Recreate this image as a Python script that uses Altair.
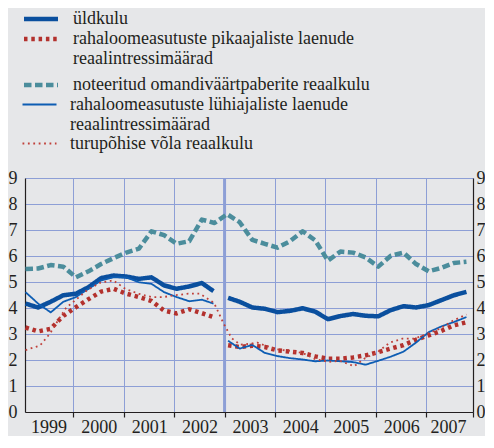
import altair as alt
import pandas as pd

series_names = [
    "üldkulu",
    "rahaloomeasutuste pikaajaliste laenude reaalintressimäärad",
    "noteeritud omandiväärtpaberite reaalkulu",
    "rahaloomeasutuste lühiajaliste laenude reaalintressimäärad",
    "turupõhise võla reaalkulu",
]
series_colors = ["#0a4f9e", "#b3312d", "#4b8d9c", "#0d5db3", "#c0403a"]
series_dash = [[1, 0], [3.5, 3.8], [7.5, 3.5], [1, 0], [1.8, 3.6]]
group_a, group_b, group_c = series_names[:2], series_names[2:3], series_names[3:]

# time positions (decimal years)
t_a = [1999.05, 1999.30, 1999.55, 1999.80, 2000.05, 2000.30, 2000.55, 2000.80,
       2001.05, 2001.30, 2001.55, 2001.80, 2002.05, 2002.30, 2002.55, 2002.78]
t_b = [2003.07, 2003.30, 2003.55, 2003.80, 2004.05, 2004.30, 2004.55, 2004.80,
       2005.05, 2005.30, 2005.55, 2005.80, 2006.05, 2006.30, 2006.55, 2006.80,
       2007.05, 2007.30, 2007.55, 2007.80]
t_all = [1999.05, 1999.30, 1999.55, 1999.80, 2000.05, 2000.30, 2000.55, 2000.80,
         2001.05, 2001.30, 2001.55, 2001.80, 2002.05, 2002.30, 2002.55, 2002.80,
         2003.05, 2003.30, 2003.55, 2003.80, 2004.05, 2004.30, 2004.55, 2004.80,
         2005.05, 2005.30, 2005.55, 2005.80, 2006.05, 2006.30, 2006.55, 2006.80,
         2007.05, 2007.30, 2007.55, 2007.80]
t_turu = [1999.05, 1999.34, 1999.54, 1999.70, 1999.86, 2000.04, 2000.27, 2000.53,
          2000.79, 2001.03, 2001.29, 2001.56, 2001.78, 2002.02, 2002.28, 2002.51,
          2002.79, 2002.98, 2003.14, 2003.31, 2003.50, 2003.65, 2003.80, 2004.04,
          2004.30, 2004.55, 2004.80, 2005.07, 2005.29, 2005.57, 2005.78, 2006.04,
          2006.28, 2006.53, 2006.77, 2007.00, 2007.27, 2007.52, 2007.80]

uldkulu_a = [4.17, 4.02, 4.24, 4.49, 4.55, 4.80, 5.15, 5.25, 5.21, 5.12, 5.18, 4.87,
             4.74, 4.83, 4.96, 4.65]
uldkulu_b = [4.39, 4.24, 4.02, 3.97, 3.84, 3.89, 3.99, 3.86, 3.57, 3.69, 3.77, 3.70,
             3.68, 3.92, 4.07, 4.02, 4.11, 4.30, 4.49, 4.62]
pika_a = [3.25, 3.10, 3.20, 3.70, 4.03, 4.34, 4.63, 4.74, 4.55, 4.42, 4.27, 3.90,
          3.79, 3.95, 3.80, 3.65]
pika_b = [2.57, 2.50, 2.55, 2.50, 2.37, 2.32, 2.27, 2.14, 2.05, 2.05, 2.10, 2.18,
          2.30, 2.44, 2.57, 2.78, 2.95, 3.12, 3.33, 3.45]
noteeritud = [5.50, 5.52, 5.65, 5.59, 5.18, 5.41, 5.69, 5.92, 6.13, 6.28, 6.95, 6.80,
              6.47, 6.57, 7.40, 7.27, 7.61, 7.30, 6.62, 6.47, 6.32, 6.57, 6.95, 6.60,
              5.82, 6.17, 6.13, 5.94, 5.59, 6.01, 6.13, 5.69, 5.41, 5.54, 5.73, 5.78]
luhi_a = [4.61, 4.17, 3.83, 4.24, 4.42, 4.74, 5.06, 5.18, 5.18, 4.99, 4.93, 4.61,
          4.42, 4.26, 4.32, 4.17]
luhi_b = [2.74, 2.44, 2.58, 2.27, 2.15, 2.07, 2.02, 1.95, 1.98, 1.95, 1.92, 1.82,
          1.97, 2.13, 2.32, 2.67, 3.07, 3.29, 3.46, 3.65]
turu = [2.38, 2.56, 3.03, 3.54, 4.02, 4.30, 4.68, 4.97, 5.06, 4.74, 4.55, 4.42,
        4.42, 4.49, 4.55, 4.55, 4.20, 3.41, 2.84, 2.59, 2.62, 2.67, 2.56, 2.41,
        2.35, 2.27, 2.03, 1.93, 1.97, 1.76, 2.06, 2.31, 2.67, 2.82, 2.82, 2.99,
        3.20, 3.50, 3.75]

year_ticks = [2000, 2001, 2002, 2003, 2004, 2005, 2006, 2007, 2007.93]
x_domain = [1999.04, 2007.93]
y_ticks = [0, 1, 2, 3, 4, 5, 6, 7, 8, 9]
break_year = [2003.0]

parts = [
    (series_names[0], "a", t_a, uldkulu_a),
    (series_names[0], "b", t_b, uldkulu_b),
    (series_names[1], "a", t_a, pika_a),
    (series_names[1], "b", t_b, pika_b),
    (series_names[2], "a", t_all, noteeritud),
    (series_names[3], "a", t_a, luhi_a),
    (series_names[3], "b", t_b, luhi_b),
    (series_names[4], "a", t_turu, turu),
]
rows = []
for name, seg, ts, vs in parts:
    for t, v in zip(ts, vs):
        rows.append({"series": name, "seg": name + seg, "t": t, "v": v})
df = pd.DataFrame(rows)

FONT = "Liberation Serif, Times New Roman, Times, serif"
TXT = "#231f20"
GRID = "#8d9fd6"
LEG_X, LEG_Y = -12, -170
SPLIT = "split(replace(datum.label, ' reaalintressimäärad', '|reaalintressimäärad'), '|')"


def make_legend(y, sw):
    return alt.Legend(
        title=None, orient="none", legendX=LEG_X, legendY=y,
        symbolType="M0,0L4,0", symbolSize=289, symbolStrokeWidth=sw,
        labelFont=FONT, labelFontSize=18, labelColor=TXT, labelLimit=460,
        labelOffset=38, rowPadding=0, padding=0, labelExpr=SPLIT,
    )


xscale = alt.Scale(domain=x_domain, nice=False, zero=False)
yscale = alt.Scale(domain=[0, 9], nice=False, zero=True)
x_axis = alt.Axis(values=year_ticks, grid=True, ticks=True, tickSize=5,
                  labelOffset=-25, labelPadding=1, labelFlush=False,
                  labelOverlap=False,
                  labelExpr="floor(datum.value - 0.5)")
y_left = alt.Axis(values=y_ticks, grid=True, ticks=False, orient="left",
                  labelPadding=8, format="d")
y_right = alt.Axis(values=y_ticks, grid=False, ticks=False, orient="right",
                   labelPadding=3, format="d")


def line_layer(names, idx, width, legend, axis):
    data = df[df["series"].isin(names)]
    return alt.Chart(data).mark_line(strokeWidth=width, strokeCap="butt", strokeJoin="round").encode(
        x=alt.X("t:Q", scale=xscale, title=None, axis=x_axis),
        y=alt.Y("v:Q", scale=yscale, title=None, axis=axis),
        color=alt.Color("series:N", scale=alt.Scale(domain=names, range=[series_colors[i] for i in idx]),
                        legend=legend),
        strokeDash=alt.StrokeDash("series:N", scale=alt.Scale(domain=names, range=[series_dash[i] for i in idx]),
                                  legend=legend),
        detail="seg:N",
    )


layer_b = line_layer(group_b, [2], 4.5, make_legend(LEG_Y + 66, 4.5), y_left)
layer_a = line_layer(group_a, [0, 1], 4.5, make_legend(LEG_Y, 4.5), None)
layer_c = line_layer(group_c, [3, 4], 1.8, make_legend(LEG_Y + 87, 1.8), None)

rule_df = pd.DataFrame({"t": break_year, "lo": [0], "hi": [9]})
rule = alt.Chart(rule_df).mark_rule(color=GRID, strokeWidth=3).encode(
    x=alt.X("t:Q", scale=xscale, title=None, axis=x_axis),
    y=alt.Y("lo:Q", scale=yscale, title=None, axis=y_right),
    y2="hi:Q",
)

chart = alt.layer(rule, layer_b, layer_a, layer_c).resolve_axis(y="independent").resolve_scale(
    y="shared", color="independent", strokeDash="independent"
).resolve_legend(color="independent", strokeDash="independent").properties(
    width=448, height=234,
    padding={"left": 0, "top": 0, "right": 0, "bottom": 0},
    background="#e6e7e9",
).configure_view(stroke=None).configure_axis(
    labelFont=FONT, labelFontSize=18, labelColor=TXT,
    domainColor=TXT, domainWidth=1.2, tickColor=TXT, tickWidth=1.2,
    gridColor=GRID, gridWidth=1,
)

chart.save("out.html", embed_options={"renderer": "svg", "actions": False})
